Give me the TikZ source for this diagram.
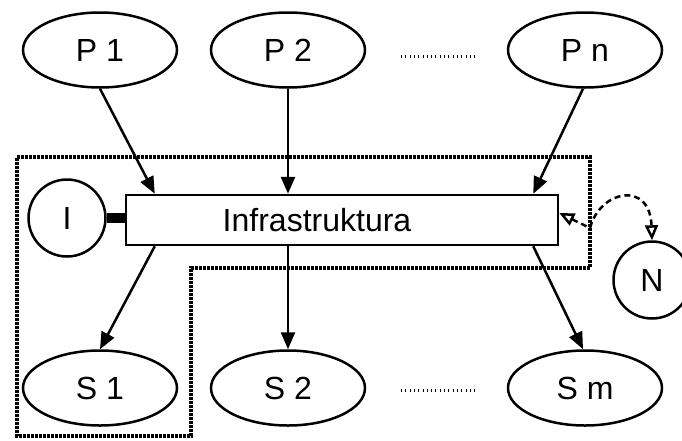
\documentclass[tikz,border=0pt]{standalone}
\usepackage{fontspec}
\setmainfont{Liberation Sans}
\usetikzlibrary{shapes.geometric, arrows.meta}

\begin{document}
\begin{tikzpicture}[x=1pt, y=-1pt,
		every node/.style={font=\fontsize{32}{36}\selectfont},
		proc/.style={draw, ellipse, line width=2.5pt, minimum width=154pt, minimum height=75pt, inner sep=0pt},
		kolo/.style={draw, circle, line width=2.5pt, minimum size=77pt, inner sep=0pt},
		strz/.style={line width=2.5pt, -{Triangle[length=17pt, width=14pt]}},
		otwarta/.tip={Triangle[open, length=15pt, width=13pt]},
		kropki/.style={line width=3pt, dash pattern=on 1pt off 3.3pt}]
		\useasboundingbox (0,0) rectangle (682,440);
		
		% granica systemu
		\draw[line width=3.5pt, dash pattern=on 3pt off 1pt] (17,157) -- (590,157) -- (590,268) -- (191,268) -- (191,436) -- (17,436) -- cycle;
		
		\node[proc] (p1) at (100,50) {P 1};
		\node[proc] (p2) at (288,50) {P 2};
		\node[proc] (pn) at (585,50) {P n};
		
		\node[draw, line width=2.5pt, fill=white, minimum width=432pt, minimum height=50pt] (infra) at (342,220) {Infrastruktura\hspace*{50pt}};
		\node[kolo] (i) at (67,218) {I};
		\node[kolo] (n) at (652,280) {N};
		
		\node[proc] (s1) at (100,388) {S 1};
		\node[proc] (s2) at (288,388) {S 2};
		\node[proc] (sm) at (585,388) {S m};
		
		\draw[kropki] (401,56) -- (477,56);
		\draw[kropki] (401,390) -- (477,390);
		
		\draw[strz] (p1.south) -- ([xshift=30pt]infra.north west);
		\draw[strz] (p2.south) -- (p2.south |- infra.north);
		\draw[strz] ([xshift=-2pt]pn.south) -- ([xshift=-26pt]infra.north east);
		
		\draw[strz] ([xshift=30pt]infra.south west) -- (s1.north);
		\draw[strz] (s2.north |- infra.south) -- (s2.north);
		\draw[strz] ([xshift=-26pt]infra.south east) -- ([xshift=-2pt]sm.north);
		
		\draw[line width=10pt] (i.east) -- (infra.west |- i.east);
		
		\coordinate (zgiecie) at (590,228);
		\draw[line width=2.5pt, dash pattern=on 6pt off 4pt, otwarta-otwarta] ([yshift=7pt]infra.east) -- (zgiecie) .. controls (600,190) and (650,180) .. (n.north);
\end{tikzpicture}
\end{document}
